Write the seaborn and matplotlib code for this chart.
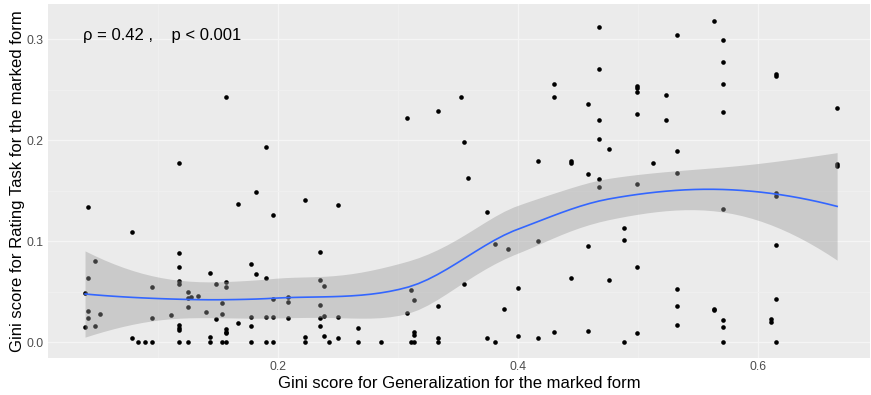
import numpy as np
import pandas as pd
import matplotlib
matplotlib.use("Agg")
import matplotlib.pyplot as plt
from matplotlib.ticker import FixedLocator, FormatStrFormatter
import seaborn as sns
from math import lgamma

# Gini scores per item: generalization task (x) vs. rating task (y)
gini_generalization = [
    0.0412, 0.0784, 0.0475, 0.0414, 0.0389, 0.0950, 0.0414, 0.0511, 0.0414, 0.0389,
    0.0475, 0.0950, 0.1108, 0.0784, 0.0831, 0.0889, 0.0950,
    0.1564, 0.1175, 0.1900, 0.1814, 0.1664, 0.1175, 0.1175, 0.1175, 0.1175, 0.1428,
    0.1772, 0.1817, 0.1900, 0.1478, 0.1564, 0.1564, 0.1248, 0.1248, 0.1270, 0.1331,
    0.1533, 0.1400, 0.1248, 0.1175, 0.1175, 0.1175, 0.1175, 0.1248, 0.1428, 0.1428,
    0.1478, 0.1533, 0.1564, 0.1564, 0.1564, 0.1533, 0.1564, 0.1664, 0.1772, 0.1772,
    0.1772, 0.1900, 0.1900,
    0.1956, 0.1956, 0.1956, 0.1956, 0.2078, 0.2078, 0.2078, 0.2220, 0.2220, 0.2220,
    0.2348, 0.2348, 0.2378, 0.2348, 0.2348, 0.2378, 0.2348, 0.2378, 0.2420, 0.2495,
    0.2495, 0.2495, 0.2662, 0.2662,
    0.2853, 0.3073, 0.3328, 0.3523, 0.3103, 0.3133, 0.3073, 0.3328, 0.3133, 0.3133,
    0.3103, 0.3133, 0.3328, 0.3328,
    0.3550, 0.3583, 0.3742, 0.3550, 0.3803, 0.3917, 0.4162, 0.4162, 0.3995, 0.3883,
    0.3742, 0.3803, 0.3995, 0.4162, 0.4298, 0.4298, 0.4298,
    0.4670, 0.4670, 0.4992, 0.4992, 0.4992, 0.4992, 0.4578, 0.4670, 0.4670, 0.4756,
    0.4437, 0.4437, 0.4578, 0.4670, 0.4670, 0.4992, 0.4881, 0.4881, 0.4578, 0.4992,
    0.4437, 0.4756, 0.4578, 0.4992, 0.4881,
    0.5633, 0.5325, 0.5706, 0.5706, 0.5706, 0.5231, 0.5231, 0.5706, 0.5325, 0.5123,
    0.5325, 0.5706, 0.5325, 0.5325, 0.5325, 0.5633, 0.5633, 0.5706, 0.5706, 0.5706,
    0.6145, 0.6145, 0.6656, 0.6656, 0.6656, 0.6145, 0.6145, 0.6145, 0.6145, 0.6103,
    0.6103, 0.6145,
]
gini_rating = [
    0.1343, 0.1095, 0.0808, 0.0640, 0.0492, 0.0547, 0.0313, 0.0283, 0.0237, 0.0155,
    0.0165, 0.0237, 0.0274, 0.0039, 0.0000, 0.0000, 0.0000,
    0.2432, 0.1772, 0.1930, 0.1488, 0.1373, 0.0881, 0.0749, 0.0610, 0.0580, 0.0690,
    0.0772, 0.0673, 0.0640, 0.0574, 0.0594, 0.0551, 0.0495, 0.0439, 0.0452, 0.0455,
    0.0392, 0.0297, 0.0350, 0.0170, 0.0140, 0.0120, 0.0000, 0.0000, 0.0049, 0.0000,
    0.0231, 0.0280, 0.0128, 0.0105, 0.0089, 0.0000, 0.0000, 0.0194, 0.0247, 0.0165,
    0.0000, 0.0247, 0.0000,
    0.1260, 0.0426, 0.0254, 0.0000, 0.0449, 0.0403, 0.0241, 0.1409, 0.0049, 0.0000,
    0.0891, 0.0617, 0.0554, 0.0370, 0.0244, 0.0264, 0.0162, 0.0066, 0.0000, 0.1360,
    0.0247, 0.0039, 0.0142, 0.0000,
    0.0000, 0.2222, 0.2289, 0.2426, 0.0515, 0.0416, 0.0287, 0.0360, 0.0099, 0.0072,
    0.0000, 0.0000, 0.0039, 0.0000,
    0.1986, 0.1623, 0.1293, 0.0580, 0.0970, 0.0921, 0.1798, 0.1006, 0.0543, 0.0330,
    0.0039, 0.0000, 0.0066, 0.0046, 0.2555, 0.2426, 0.0105,
    0.3121, 0.2706, 0.2541, 0.2514, 0.2475, 0.2264, 0.2356, 0.2204, 0.2013, 0.1914,
    0.1798, 0.1778, 0.1670, 0.1620, 0.1538, 0.1571, 0.1132, 0.1013, 0.0950, 0.0742,
    0.0637, 0.0617, 0.0115, 0.0095, 0.0000,
    0.3180, 0.3043, 0.2990, 0.2776, 0.2560, 0.2448, 0.2204, 0.2280, 0.1896, 0.1775,
    0.1679, 0.1323, 0.0525, 0.0360, 0.0168, 0.0333, 0.0317, 0.0221, 0.0155, 0.0000,
    0.2656, 0.2640, 0.2316, 0.1765, 0.1749, 0.1475, 0.1452, 0.0966, 0.0432, 0.0236,
    0.0198, 0.0000,
]

x_ticks = [0.2, 0.4, 0.6]
y_ticks = [0.0, 0.1, 0.2, 0.3]
x_label = "Gini score for Generalization for the marked form"
y_label = "Gini score for Rating Task for the marked form"
stat_text = "\u03c1 = 0.42 ,    p < 0.001"

df = pd.DataFrame({"gen": gini_generalization, "rating": gini_rating})


def loess_band(x, y, grid, span=0.75, cell=0.2, level=0.95):
    """Degree-2 loess with kd-tree vertex interpolation and a pointwise CI."""
    n = len(x)
    q = int(np.floor(n * span))
    xs = np.sort(x)

    def local_rows(x0):
        d = np.abs(x - x0)
        h = np.sort(d)[q - 1]
        u = np.clip(d / h, 0, 1)
        w = (1 - u ** 3) ** 3
        X = np.column_stack([np.ones(n), x - x0, (x - x0) ** 2])
        XtW = (X * w[:, None]).T
        sol = np.linalg.solve(XtW @ X, XtW)
        return sol[0], sol[1]

    # cell boundaries (1-d kd tree)
    fc = int(np.floor(n * span * cell))
    lo_, hi_ = xs[0], xs[-1]
    mu = 0.005 * max(hi_ - lo_, 1e-10 * max(abs(lo_), abs(hi_)) + 1e-30)
    verts = {lo_ - mu, hi_ + mu}

    def split(l, u, vlo, vhi):
        if u - l + 1 <= fc:
            return
        m = (l + 1 + u + 1) // 2 - 1
        off = 0
        while l <= m + off < u:
            if xs[m + off] == xs[m + off + 1]:
                off = -off
                if off >= 0:
                    off += 1
            else:
                m = m + off
                break
        v = xs[m]
        if v == vlo or v == vhi:
            return
        verts.add(v)
        split(l, m, vlo, v)
        split(m + 1, u, v, vhi)

    split(0, n - 1, lo_ - mu, hi_ + mu)
    V = np.array(sorted(verts))
    rows = [local_rows(v) for v in V]
    Lval = np.array([r[0] for r in rows])
    Lslp = np.array([r[1] for r in rows])

    def interp_rows(z):
        j = int(np.clip(np.searchsorted(V, z) - 1, 0, len(V) - 2))
        h = V[j + 1] - V[j]
        t = (z - V[j]) / h
        phi0 = (1 - t) ** 2 * (1 + 2 * t)
        phi1 = t ** 2 * (3 - 2 * t)
        psi0 = t * (1 - t) ** 2
        psi1 = -t ** 2 * (1 - t)
        return (phi0 * Lval[j] + phi1 * Lval[j + 1]
                + (psi0 * Lslp[j] + psi1 * Lslp[j + 1]) * h)

    L = np.array([interp_rows(xi) for xi in x])
    R = np.eye(n) - L
    RtR = R.T @ R
    delta1 = np.trace(RtR)
    delta2 = np.trace(RtR @ RtR)
    resid = y - L @ y
    sigma = np.sqrt(np.sum(resid ** 2) / delta1)
    dof = delta1 ** 2 / delta2

    c = np.exp(lgamma((dof + 1) / 2) - lgamma(dof / 2)) / np.sqrt(dof * np.pi)

    def t_cdf(t):
        ts = np.linspace(0, t, 4001)
        return 0.5 + np.trapezoid(c * (1 + ts ** 2 / dof) ** (-(dof + 1) / 2), ts)

    a, b = 0.0, 10.0
    target = 1 - (1 - level) / 2
    for _ in range(60):
        mid = 0.5 * (a + b)
        if t_cdf(mid) < target:
            a = mid
        else:
            b = mid
    tq = 0.5 * (a + b)

    G = np.array([interp_rows(g) for g in grid])
    fit = G @ y
    se = sigma * np.sqrt(np.sum(G ** 2, axis=1))
    return fit, fit - tq * se, fit + tq * se


xv = df["gen"].to_numpy()
yv = df["rating"].to_numpy()
grid = np.linspace(xv.min(), xv.max(), 80)
fit, lower, upper = loess_band(xv, yv, grid)
smooth = pd.DataFrame({"gen": grid, "fit": fit, "lower": lower, "upper": upper})

plt.rcParams["font.family"] = ["Liberation Sans", "DejaVu Sans"]

W, H = 871, 395
fig = plt.figure(figsize=(W / 100, H / 100), dpi=100)
left, right, top, bottom = 47.7, 870.0, 4.0, 358.3
ax = fig.add_axes([left / W, 1 - bottom / H, (right - left) / W, (bottom - top) / H])

ax.set_facecolor("#EBEBEB")
for s in ax.spines.values():
    s.set_visible(False)

ax.set_xlim(0.0078, 0.693)
ax.set_ylim(-0.0158, 0.335)
ax.xaxis.set_major_locator(FixedLocator(x_ticks))
ax.yaxis.set_major_locator(FixedLocator(y_ticks))
ax.xaxis.set_minor_locator(FixedLocator([0.1, 0.3, 0.5]))
ax.yaxis.set_minor_locator(FixedLocator([0.05, 0.15, 0.25]))
ax.xaxis.set_major_formatter(FormatStrFormatter("%.1f"))
ax.yaxis.set_major_formatter(FormatStrFormatter("%.1f"))
ax.grid(which="major", color="#F5F5F5", linewidth=0.9)
ax.grid(which="minor", color="#F0F0F0", linewidth=0.6)
ax.set_axisbelow(True)
ax.tick_params(which="major", length=0, labelcolor="#4D4D4D", labelsize=8.8)
ax.tick_params(axis="x", pad=2.0)
ax.tick_params(axis="y", pad=3.0)
ax.tick_params(which="minor", length=0)

sns.scatterplot(data=df, x="gen", y="rating", ax=ax, color="black", s=11,
                linewidth=0, edgecolor=None, zorder=2)
ax.fill_between(smooth["gen"], smooth["lower"], smooth["upper"],
                color="#999999", alpha=0.4, linewidth=0, zorder=3)
sns.lineplot(data=smooth, x="gen", y="fit", ax=ax, color="#3366FF",
             linewidth=1.2, zorder=4)

ax.text(0.0375, 0.304, stat_text, ha="left", va="center", fontsize=12,
        color="black")

ax.set_xlabel(x_label, fontsize=12, color="black", va="center")
ax.set_ylabel(y_label, fontsize=12, color="black", va="center")
ax.xaxis.set_label_coords(0.5, (bottom - 383.5) / (bottom - top))
ax.yaxis.set_label_coords((17.5 - left) / (right - left), 0.5)

fig.savefig("out.png", dpi=100)
